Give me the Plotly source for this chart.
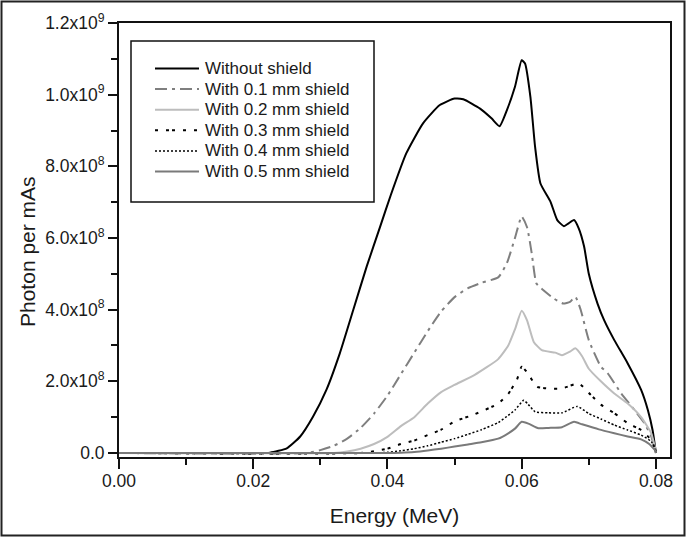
import plotly.graph_objects as go

# ---- data (energy in MeV, photons per mAs in units of 1e9) ----
x_none = [0.0, 0.020, 0.0225, 0.025, 0.027, 0.0289, 0.0309, 0.0329, 0.0349, 0.0369, 0.0389, 0.0405,
          0.0428, 0.0453, 0.0478, 0.050, 0.0513, 0.0538, 0.0555, 0.0567, 0.0578, 0.059, 0.060, 0.0605,
          0.0613, 0.062, 0.0628, 0.0643, 0.0653, 0.0663, 0.067, 0.0678, 0.0685, 0.0693, 0.070, 0.0713,
          0.0723, 0.0738, 0.0758, 0.0778, 0.0788, 0.0795, 0.080]
y_none = [0.0, 0.0, 0.001, 0.013, 0.046, 0.101, 0.176, 0.278, 0.399, 0.52, 0.631, 0.72,
          0.836, 0.92, 0.971, 0.989, 0.987, 0.961, 0.934, 0.912, 0.957, 1.022, 1.096, 1.087,
          0.994, 0.854, 0.752, 0.701, 0.65, 0.633, 0.641, 0.65, 0.627, 0.576, 0.50, 0.417,
          0.37, 0.315, 0.25, 0.176, 0.12, 0.064, 0.0]

x_01 = [0.0, 0.028, 0.030, 0.032, 0.034, 0.036, 0.038, 0.040, 0.042, 0.044, 0.046, 0.048, 0.050,
        0.052, 0.054, 0.0565, 0.0578, 0.059, 0.060, 0.0608, 0.0615, 0.0622, 0.0632, 0.0648, 0.0662,
        0.0672, 0.068, 0.0688, 0.070, 0.0718, 0.0728, 0.0748, 0.0768, 0.0783, 0.0793, 0.080]
y_01 = [0.0, 0.0, 0.008, 0.02, 0.04, 0.07, 0.11, 0.16, 0.22, 0.28, 0.34, 0.395, 0.435,
        0.46, 0.475, 0.49, 0.53, 0.60, 0.66, 0.63, 0.557, 0.473, 0.455, 0.431, 0.417,
        0.422, 0.436, 0.399, 0.315, 0.241, 0.223, 0.167, 0.12, 0.083, 0.046, 0.0]

x_02 = [0.0, 0.032, 0.034, 0.036, 0.038, 0.040, 0.042, 0.044, 0.046, 0.048, 0.050, 0.053, 0.0565,
        0.058, 0.059, 0.060, 0.0608, 0.0618, 0.063, 0.065, 0.066, 0.0672, 0.068, 0.069, 0.070,
        0.0718, 0.0738, 0.0758, 0.0778, 0.0793, 0.080]
y_02 = [0.0, 0.0, 0.004, 0.012, 0.025, 0.045, 0.075, 0.10, 0.138, 0.17, 0.19, 0.218, 0.262,
        0.30, 0.345, 0.397, 0.37, 0.31, 0.287, 0.28, 0.273, 0.283, 0.292, 0.27, 0.235,
        0.20, 0.166, 0.138, 0.10, 0.055, 0.005]

x_03 = [0.0, 0.036, 0.038, 0.040, 0.042, 0.044, 0.046, 0.048, 0.050, 0.053, 0.0565, 0.058, 0.0593,
        0.060, 0.0608, 0.0623, 0.064, 0.066, 0.0685, 0.0703, 0.0718, 0.0738, 0.0758, 0.0778,
        0.0793, 0.080]
y_03 = [0.0, 0.0, 0.005, 0.012, 0.025, 0.035, 0.05, 0.065, 0.088, 0.108, 0.138, 0.165, 0.205,
        0.241, 0.225, 0.185, 0.18, 0.18, 0.194, 0.162, 0.135, 0.111, 0.083, 0.064,
        0.036, 0.005]

x_04 = [0.0, 0.038, 0.040, 0.042, 0.044, 0.046, 0.048, 0.050, 0.052, 0.054, 0.0565, 0.058, 0.059,
        0.0603, 0.061, 0.062, 0.064, 0.066, 0.0683, 0.070, 0.0718, 0.0738, 0.0758, 0.0778,
        0.0793, 0.080]
y_04 = [0.0, 0.0, 0.002, 0.006, 0.012, 0.02, 0.03, 0.04, 0.052, 0.065, 0.085, 0.105, 0.12,
        0.147, 0.135, 0.115, 0.112, 0.112, 0.13, 0.11, 0.095, 0.078, 0.064, 0.05,
        0.032, 0.005]

x_05 = [0.0, 0.040, 0.042, 0.044, 0.046, 0.048, 0.050, 0.052, 0.054, 0.0565, 0.058, 0.059, 0.060,
        0.061, 0.0625, 0.064, 0.066, 0.0678, 0.069, 0.0715, 0.0738, 0.0758, 0.0778, 0.079, 0.080]
y_05 = [0.0, 0.0, 0.001, 0.003, 0.007, 0.012, 0.018, 0.024, 0.03, 0.04, 0.055, 0.068, 0.087,
        0.082, 0.069, 0.07, 0.072, 0.087, 0.08, 0.066, 0.055, 0.046, 0.038, 0.025, 0.005]

series_names = ["Without shield", "With 0.1 mm shield", "With 0.2 mm shield",
                "With 0.3 mm shield", "With 0.4 mm shield", "With 0.5 mm shield"]

y_tickvals = [0.0, 0.2e9, 0.4e9, 0.6e9, 0.8e9, 1.0e9, 1.2e9]
y_ticktext = ["0.0", "2.0x10<sup>8</sup>", "4.0x10<sup>8</sup>", "6.0x10<sup>8</sup>",
              "8.0x10<sup>8</sup>", "1.0x10<sup>9</sup>", "1.2x10<sup>9</sup>"]
x_tickvals = [0.0, 0.02, 0.04, 0.06, 0.08]
x_ticktext = ["0.00", "0.02", "0.04", "0.06", "0.08"]

FONT = "Arial, 'Liberation Sans', sans-serif"
TXT = "#1a1a1a"

styles = [
    dict(color="#000000", width=2, dash="solid"),
    dict(color="#7f7f7f", width=2, dash="12px,5px,3px,5px"),
    dict(color="#bdbdbd", width=2, dash="solid"),
    dict(color="#000000", width=2, dash="3px,8px,3px,3px,3px,8px"),
    dict(color="#000000", width=1.5, dash="2px,2px"),
    dict(color="#7a7a7a", width=2, dash="solid"),
]

xs = [x_none, x_01, x_02, x_03, x_04, x_05]
ys = [y_none, y_01, y_02, y_03, y_04, y_05]

fig = go.Figure()
for name, xv, yv, st in zip(series_names, xs, ys, styles):
    fig.add_trace(go.Scatter(
        x=xv, y=[v * 1e9 for v in yv], mode="lines", name=name, showlegend=False,
        line=dict(color=st["color"], width=st["width"], dash=st["dash"], shape="spline", smoothing=0.5),
    ))

W, H = 686, 537
L, R, T, B = 119, 16, 23, 80
pw, ph = W - L - R, H - T - B

def px(xp):
    return (xp - L) / pw

def py(yp):
    return (H - B - yp) / ph

# boxed key (line samples + text) inside the plot, and the outer frame
shapes = [
    dict(type="rect", xref="paper", yref="paper",
         x0=px(131), x1=px(374), y0=py(202), y1=py(41),
         line=dict(color="#111111", width=1.5), fillcolor="white", layer="above"),
    dict(type="rect", xref="paper", yref="paper",
         x0=px(1.5), x1=px(684.5), y0=py(535.5), y1=py(1.5),
         line=dict(color="#222222", width=2), fillcolor="rgba(0,0,0,0)", layer="above"),
]
annotations = []
row0, rowgap = 68.5, 20.6
for i, (name, st) in enumerate(zip(series_names, styles)):
    yy = py(row0 + i * rowgap)
    shapes.append(dict(type="line", xref="paper", yref="paper",
                       x0=px(155), x1=px(199), y0=yy, y1=yy, layer="above",
                       line=dict(color=st["color"], width=st["width"], dash=st["dash"])))
    annotations.append(dict(xref="paper", yref="paper", x=px(203), y=yy,
                            xanchor="left", yanchor="middle", showarrow=False,
                            text=name, font=dict(family=FONT, size=17, color=TXT)))

# y-axis title (placed slightly below the axis centre, as in the original)
annotations.append(dict(xref="paper", yref="paper", x=px(27), y=py(252),
                        xanchor="center", yanchor="middle", showarrow=False, textangle=-90,
                        text="Photon per mAs", font=dict(family=FONT, size=21, color=TXT)))

fig.update_layout(
    width=W, height=H,
    margin=dict(l=L, r=R, t=T, b=B),
    paper_bgcolor="white", plot_bgcolor="white",
    font=dict(family=FONT, size=17, color=TXT),
    showlegend=False,
    shapes=shapes,
    annotations=annotations,
)

fig.update_xaxes(
    range=[0, 0.0821], tickvals=x_tickvals, ticktext=x_ticktext,
    ticks="outside", ticklen=10, tickwidth=2, tickcolor="#111",
    minor=dict(ticks="outside", ticklen=6, tickwidth=2, tickcolor="#111", dtick=0.01, tick0=0),
    showline=True, linecolor="#111", linewidth=2, mirror=True,
    showgrid=False, zeroline=False, ticklabelstandoff=-3,
    title=dict(text="Energy (MeV)", font=dict(family=FONT, size=21, color=TXT), standoff=18),
    tickfont=dict(family=FONT, size=17.5, color=TXT),
)
fig.update_yaxes(
    range=[-1.12e7, 1.2e9], tickvals=y_tickvals, ticktext=y_ticktext,
    ticks="outside", ticklen=9, tickwidth=2, tickcolor="#111",
    minor=dict(ticks="outside", ticklen=6, tickwidth=2, tickcolor="#111", dtick=1e8, tick0=0),
    showline=True, linecolor="#111", linewidth=2, mirror=True,
    showgrid=False, zeroline=False,
    tickfont=dict(family=FONT, size=17.5, color=TXT),
)

fig.write_html("out.html", config={"displayModeBar": False},
               post_script="document.body.style.margin='0';document.body.style.padding='0';")
